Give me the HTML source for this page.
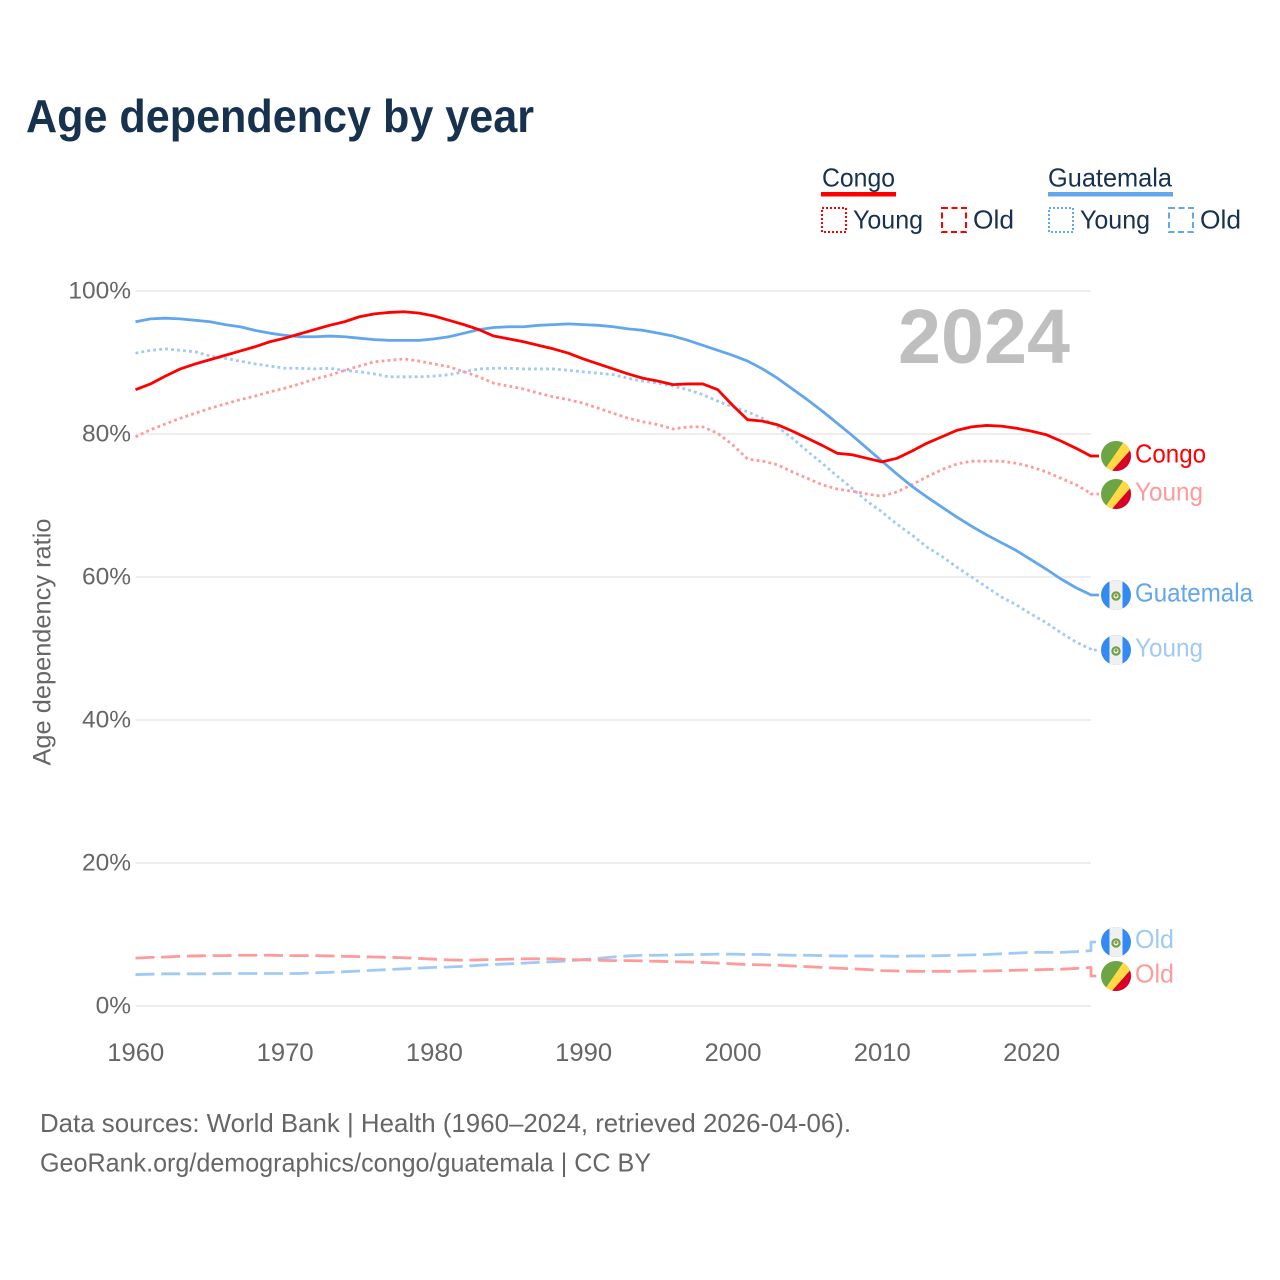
<!DOCTYPE html>
<html lang="en">
<head>
<meta charset="utf-8">
<title>Age dependency by year</title>
<style>
html,body{margin:0;padding:0;background:#fff;width:1280px;height:1280px;overflow:hidden}
svg{display:block}
text{font-family:"Liberation Sans",sans-serif}
</style>
</head>
<body>
<svg id="chart" xmlns="http://www.w3.org/2000/svg" width="1280" height="1280" viewBox="0 0 1280 1280">
  <rect x="0" y="0" width="1280" height="1280" fill="#fff"/>
  <text x="26" y="132" font-size="46" font-weight="700" fill="#17324f" textLength="508" lengthAdjust="spacingAndGlyphs">Age dependency by year</text>

  <g fill="#17324f" font-size="26">
    <text x="822" y="186.5" textLength="73" lengthAdjust="spacingAndGlyphs">Congo</text>
    <rect x="821" y="192" width="75" height="4.5" fill="#ff0000"/>
    <rect x="822" y="208" width="24" height="24" fill="none" stroke="#ff0000" stroke-width="2" stroke-dasharray="2 2"/>
    <text x="853" y="228.5" textLength="70" lengthAdjust="spacingAndGlyphs">Young</text>
    <rect x="942" y="208" width="24" height="24" fill="none" stroke="#ff0000" stroke-width="2" stroke-dasharray="6 3.5"/>
    <text x="973" y="228.5" textLength="41" lengthAdjust="spacingAndGlyphs">Old</text>

    <text x="1048" y="186.5" textLength="124" lengthAdjust="spacingAndGlyphs">Guatemala</text>
    <rect x="1048" y="192" width="125" height="4.5" fill="#62a6ee"/>
    <rect x="1049" y="208" width="24" height="24" fill="none" stroke="#62a6ee" stroke-width="2" stroke-dasharray="2 2"/>
    <text x="1080" y="228.5" textLength="70" lengthAdjust="spacingAndGlyphs">Young</text>
    <rect x="1169" y="208" width="24" height="24" fill="none" stroke="#62a6ee" stroke-width="2" stroke-dasharray="6 3.5"/>
    <text x="1200" y="228.5" textLength="41" lengthAdjust="spacingAndGlyphs">Old</text>
  </g>

  <g id="grid"></g>
  <g id="yticks"></g>
  <g id="xticks"></g>
  <text transform="translate(50.5 642) rotate(-90)" text-anchor="middle" font-size="25" fill="#666" textLength="247" lengthAdjust="spacingAndGlyphs">Age dependency ratio</text>
  <text x="898" y="363" font-size="77" font-weight="700" fill="#bfbfbf" textLength="172" lengthAdjust="spacingAndGlyphs">2024</text>
  <g id="series"></g>
  <g id="labels"></g>

  <g font-size="26" fill="#666">
    <text x="40" y="1132" textLength="811" lengthAdjust="spacingAndGlyphs">Data sources: World Bank | Health (1960–2024, retrieved 2026-04-06).</text>
    <text x="40" y="1171.5" textLength="611" lengthAdjust="spacingAndGlyphs">GeoRank.org/demographics/congo/guatemala | CC BY</text>
  </g>
</svg>
<script>
const startYear = 1960;
const endYear = 2024;
const yTickValues = [0, 20, 40, 60, 80, 100];
const xTickValues = [1960, 1970, 1980, 1990, 2000, 2010, 2020];

const congoTotal = [86.2,87.0,88.1,89.1,89.8,90.4,91.0,91.6,92.2,92.9,93.4,94.0,94.6,95.2,95.7,96.4,96.8,97.0,97.1,96.9,96.5,95.9,95.3,94.6,93.7,93.3,92.9,92.4,91.9,91.3,90.5,89.8,89.1,88.4,87.8,87.4,86.9,87.0,87.0,86.2,84.0,82.0,81.8,81.3,80.4,79.4,78.4,77.3,77.1,76.6,76.1,76.6,77.6,78.7,79.6,80.5,81.0,81.2,81.1,80.8,80.4,79.9,79.0,78.0,76.9];
const guatemalaTotal = [95.7,96.1,96.2,96.1,95.9,95.7,95.3,95.0,94.5,94.1,93.8,93.6,93.6,93.7,93.6,93.4,93.2,93.1,93.1,93.1,93.3,93.6,94.1,94.6,94.9,95.0,95.0,95.2,95.3,95.4,95.3,95.2,95.0,94.7,94.5,94.1,93.7,93.1,92.4,91.7,91.0,90.2,89.1,87.8,86.3,84.8,83.2,81.5,79.8,78.0,76.2,74.4,72.7,71.2,69.8,68.4,67.1,65.9,64.8,63.7,62.4,61.1,59.7,58.5,57.5];
const congoYoung = [79.6,80.6,81.4,82.2,82.9,83.6,84.2,84.8,85.3,85.9,86.4,87.0,87.7,88.2,88.9,89.5,90.1,90.3,90.5,90.2,89.8,89.4,88.7,88.0,87.1,86.7,86.3,85.7,85.2,84.8,84.3,83.6,82.9,82.2,81.7,81.3,80.7,81.0,81.0,80.1,78.5,76.5,76.2,75.7,74.7,73.8,72.9,72.3,72.0,71.6,71.3,71.9,72.9,74.0,75.0,75.8,76.2,76.2,76.2,75.9,75.4,74.7,73.8,72.9,71.7];
const guatemalaYoung = [91.3,91.7,91.9,91.7,91.5,90.9,90.6,90.2,89.8,89.5,89.2,89.2,89.1,89.2,88.9,88.7,88.4,88.0,88.0,88.0,88.1,88.3,88.7,89.1,89.2,89.2,89.1,89.1,89.1,88.9,88.7,88.5,88.3,87.8,87.4,87.1,86.7,86.2,85.5,84.6,83.8,83.1,82.2,81.0,79.4,77.6,75.9,74.1,72.4,70.6,69.1,67.4,65.9,64.2,62.9,61.4,60.0,58.6,57.2,56.1,54.8,53.6,52.2,50.9,49.9];
const congoOld = [6.7,6.8,6.85,6.95,7.0,7.05,7.05,7.1,7.1,7.1,7.05,7.05,7.05,7.0,6.95,6.9,6.85,6.8,6.75,6.65,6.55,6.45,6.4,6.45,6.5,6.55,6.6,6.6,6.6,6.5,6.45,6.4,6.35,6.35,6.3,6.25,6.2,6.15,6.1,6.0,5.9,5.8,5.75,5.7,5.6,5.5,5.4,5.3,5.2,5.1,4.95,4.9,4.85,4.85,4.85,4.85,4.9,4.9,4.95,5.0,5.05,5.1,5.15,5.25,5.4];
const guatemalaOld = [4.4,4.45,4.5,4.5,4.5,4.5,4.55,4.55,4.55,4.55,4.55,4.55,4.65,4.7,4.8,4.9,5.0,5.1,5.2,5.3,5.4,5.45,5.55,5.7,5.8,5.9,6.0,6.1,6.2,6.3,6.5,6.65,6.85,7.0,7.1,7.1,7.15,7.2,7.2,7.25,7.25,7.2,7.2,7.15,7.1,7.1,7.05,7.0,7.0,7.0,7.0,6.95,7.0,7.0,7.05,7.1,7.15,7.2,7.3,7.4,7.5,7.5,7.5,7.6,7.75];

const SVGNS = 'http://www.w3.org/2000/svg';
const xLeft = 135.5, xRight = 1091, yZero = 1006, yHundred = 291;
const RED = '#ff0000', BLUE = '#62a6ee', RED_LIGHT = '#ff9a9a', BLUE_LIGHT = '#a0c9f5';
const DOT = '2.8 3.2', DASH = '19 6.7';

function xScale(year) {
  return xLeft + (year - startYear) * (xRight - xLeft) / (endYear - startYear);
}
function yScale(value) {
  return yZero - value * (yZero - yHundred) / 100;
}
function make(tag, attrs, parent) {
  const el = document.createElementNS(SVGNS, tag);
  for (const key in attrs) el.setAttribute(key, attrs[key]);
  parent.appendChild(el);
  return el;
}

const gridGroup = document.getElementById('grid');
const yTickGroup = document.getElementById('yticks');
const xTickGroup = document.getElementById('xticks');
const seriesGroup = document.getElementById('series');
const labelGroup = document.getElementById('labels');

yTickValues.forEach(function (v) {
  const line = make('line', { x1: xLeft, x2: xRight, y1: yScale(v), y2: yScale(v), stroke: '#eeeeee', 'stroke-width': 2 }, gridGroup);
  
  
  const label = make('text', { x: 131, y: yScale(v) + 7.5, 'text-anchor': 'end', 'font-size': 24.5, fill: '#666' }, yTickGroup);
  
  
  label.textContent = v + '%';
});

xTickValues.forEach(function (year) {
  const label = make('text', { x: xScale(year) + 0.3, y: 1061, 'text-anchor': 'middle', 'font-size': 25, fill: '#666', textLength: 57, lengthAdjust: 'spacingAndGlyphs' }, xTickGroup);
  
  
  label.textContent = year;
});

function drawSeries(values, name, color, dash, labelY) {
  let d = '';
  values.forEach(function (v, i) {
    d += (i ? 'L' : 'M') + xScale(startYear + i).toFixed(2) + ' ' + yScale(v).toFixed(2);
  });
  d += 'L' + xRight + ' ' + labelY + 'L1099 ' + labelY;
  const attrs = { d: d, fill: 'none', stroke: color, 'stroke-width': 2.8, 'stroke-linejoin': 'round' };
  if (dash) attrs['stroke-dasharray'] = dash;
  const path = make('path', attrs, seriesGroup);
  
  
}

function drawCongoFlag(cy, name) {
  const g = make('g', { transform: 'translate(1116 ' + cy + ')', 'clip-path': 'url(#flag-clip)' }, labelGroup);
  
  
  make('rect', { x: -16, y: -16, width: 32, height: 32, fill: '#6da544' }, g);
  make('polygon', { points: '-13,16 9,-16 18,-16 18,-10 -5,16', fill: '#ffda44' }, g);
  make('polygon', { points: '-5,16 18,-10 18,16', fill: '#d80027' }, g);
}
function drawGuatemalaFlag(cy, name) {
  const g = make('g', { transform: 'translate(1116 ' + cy + ')', 'clip-path': 'url(#flag-clip)' }, labelGroup);
  
  
  make('rect', { x: -16, y: -16, width: 32, height: 32, fill: '#338af3' }, g);
  make('rect', { x: -6.5, y: -16, width: 13, height: 32, fill: '#f0f0f0' }, g);
  make('circle', { cx: 0, cy: 1, r: 3.6, fill: 'none', stroke: '#6da544', 'stroke-width': 2.2 }, g);
  make('circle', { cx: 0, cy: 0.5, r: 1.4, fill: '#a2804a' }, g);
}
function drawLabel(text, y, color, width, name) {
  const label = make('text', { x: 1135, y: y, 'font-size': 26, fill: color, textLength: width, lengthAdjust: 'spacingAndGlyphs' }, labelGroup);
  
  
  label.textContent = text;
}

const defs = make('defs', {}, labelGroup);
const clip = make('clipPath', { id: 'flag-clip' }, defs);
make('circle', { cx: 0, cy: 0, r: 15 }, clip);

drawSeries(guatemalaOld, 'guatemala-old', BLUE_LIGHT, DASH, 942);
drawSeries(congoOld, 'congo-old', RED_LIGHT, DASH, 976);
drawSeries(guatemalaYoung, 'guatemala-young', BLUE_LIGHT, DOT, 650);
drawSeries(congoYoung, 'congo-young', RED_LIGHT, DOT, 494);
drawSeries(guatemalaTotal, 'guatemala-total', BLUE, null, 595);
drawSeries(congoTotal, 'congo-total', RED, null, 456);

drawCongoFlag(456, 'total');
drawCongoFlag(494, 'young');
drawGuatemalaFlag(595, 'total');
drawGuatemalaFlag(650, 'young');
drawGuatemalaFlag(942, 'old');
drawCongoFlag(976, 'old');

drawLabel('Congo', 462.5, RED, 71, 'congo-total');
drawLabel('Young', 500.5, RED_LIGHT, 68, 'congo-young');
drawLabel('Guatemala', 601.5, BLUE, 118, 'guatemala-total');
drawLabel('Young', 656.5, BLUE_LIGHT, 68, 'guatemala-young');
drawLabel('Old', 948, BLUE_LIGHT, 39, 'guatemala-old');
drawLabel('Old', 982.5, RED_LIGHT, 39, 'congo-old');
</script>
</body>
</html>
